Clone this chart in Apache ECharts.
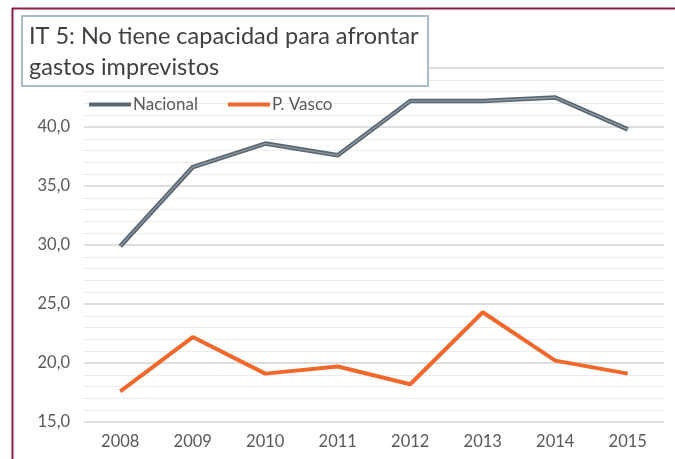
<!DOCTYPE html>
<html>
<head>
<meta charset="utf-8">
<script src="https://cdn.jsdelivr.net/npm/echarts@6/dist/echarts.min.js"></script>
<style>
  html, body { margin: 0; padding: 0; background: #ffffff; }
  #chart { width: 675px; height: 459px; }
</style>
</head>
<body>
<div id="chart"></div>
<script>
// Years on the x axis
const years = ['2008', '2009', '2010', '2011', '2012', '2013', '2014', '2015'];
// Share of people unable to face unexpected expenses (%)
const nacional = [29.9, 36.6, 38.6, 37.6, 42.2, 42.2, 42.5, 39.8];
const pVasco = [17.6, 22.2, 19.1, 19.7, 18.2, 24.3, 20.2, 19.1];
// Title lines
const titleLines = ['IT 5: No tiene capacidad para afrontar', 'gastos imprevistos'];

const chart = echarts.init(document.getElementById('chart'), null, { renderer: 'canvas' });

const fmt = v => v.toFixed(1).replace('.', ',');
const FONT = 'Lato, "Open Sans", sans-serif';

chart.setOption({
  backgroundColor: '#ffffff',
  animation: false,
  grid: { left: 84, right: 11, top: 68, bottom: 37 },
  legend: {
    data: ['Nacional', 'P. Vasco'],
    left: 84, top: 91,
    itemWidth: 42, itemHeight: 4, itemGap: 30,
    textStyle: { color: '#595959', fontSize: 17, fontFamily: FONT, padding: [0, 0, 0, -3] },
    icon: 'rect'
  },
  xAxis: {
    type: 'category',
    data: years,
    boundaryGap: true,
    axisLine: { show: false },
    axisTick: { show: false },
    axisLabel: { color: '#595959', fontSize: 16.5, fontFamily: FONT, margin: 11 }
  },
  yAxis: {
    type: 'value',
    min: 15, max: 45, interval: 5,
    axisLine: { show: false },
    axisTick: { show: false },
    axisLabel: { color: '#595959', fontSize: 16.5, fontFamily: FONT, margin: 14, formatter: fmt },
    splitLine: { lineStyle: { color: '#d3d3d3', width: 1.5 } },
    minorTick: { show: false, splitNumber: 5 },
    minorSplitLine: { show: true, lineStyle: { color: '#ebebeb', width: 1.2 } }
  },
  series: [
    {
      name: 'Nacional', type: 'line', data: nacional,
      symbol: 'none', z: 3,
      lineStyle: { color: '#5a6670', width: 4.5 },
      itemStyle: { color: '#5a6670' }
    },
    {
      name: 'Nacional-core', type: 'line', data: nacional,
      symbol: 'none', z: 4, silent: true,
      lineStyle: { color: '#8e99a2', width: 1.3 }
    },
    {
      name: 'P. Vasco', type: 'line', data: pVasco,
      symbol: 'none', z: 3,
      lineStyle: { color: '#f1682c', width: 4 },
      itemStyle: { color: '#f1682c' }
    }
  ],
  graphic: [
    // frame edges
    { type: 'line', z: 100, shape: { x1: 12, y1: 8.5, x2: 675, y2: 8.5 }, style: { stroke: '#8a1f41', lineWidth: 2 } },
    { type: 'line', z: 100, shape: { x1: 12.5, y1: 8, x2: 12.5, y2: 459 }, style: { stroke: '#8a1f41', lineWidth: 2 } },
    // title box
    { type: 'rect', z: 90, shape: { x: 22, y: 16, width: 406, height: 70 },
      style: { fill: '#ffffff', stroke: '#a9bccd', lineWidth: 2 } },
    { type: 'text', z: 91, left: 29, top: 24,
      style: { text: titleLines[0], fill: '#404040', font: '23.5px ' + FONT } },
    { type: 'text', z: 91, left: 29, top: 55,
      style: { text: titleLines[1], fill: '#404040', font: '23.5px ' + FONT } }
  ]
});
</script>
</body>
</html>
